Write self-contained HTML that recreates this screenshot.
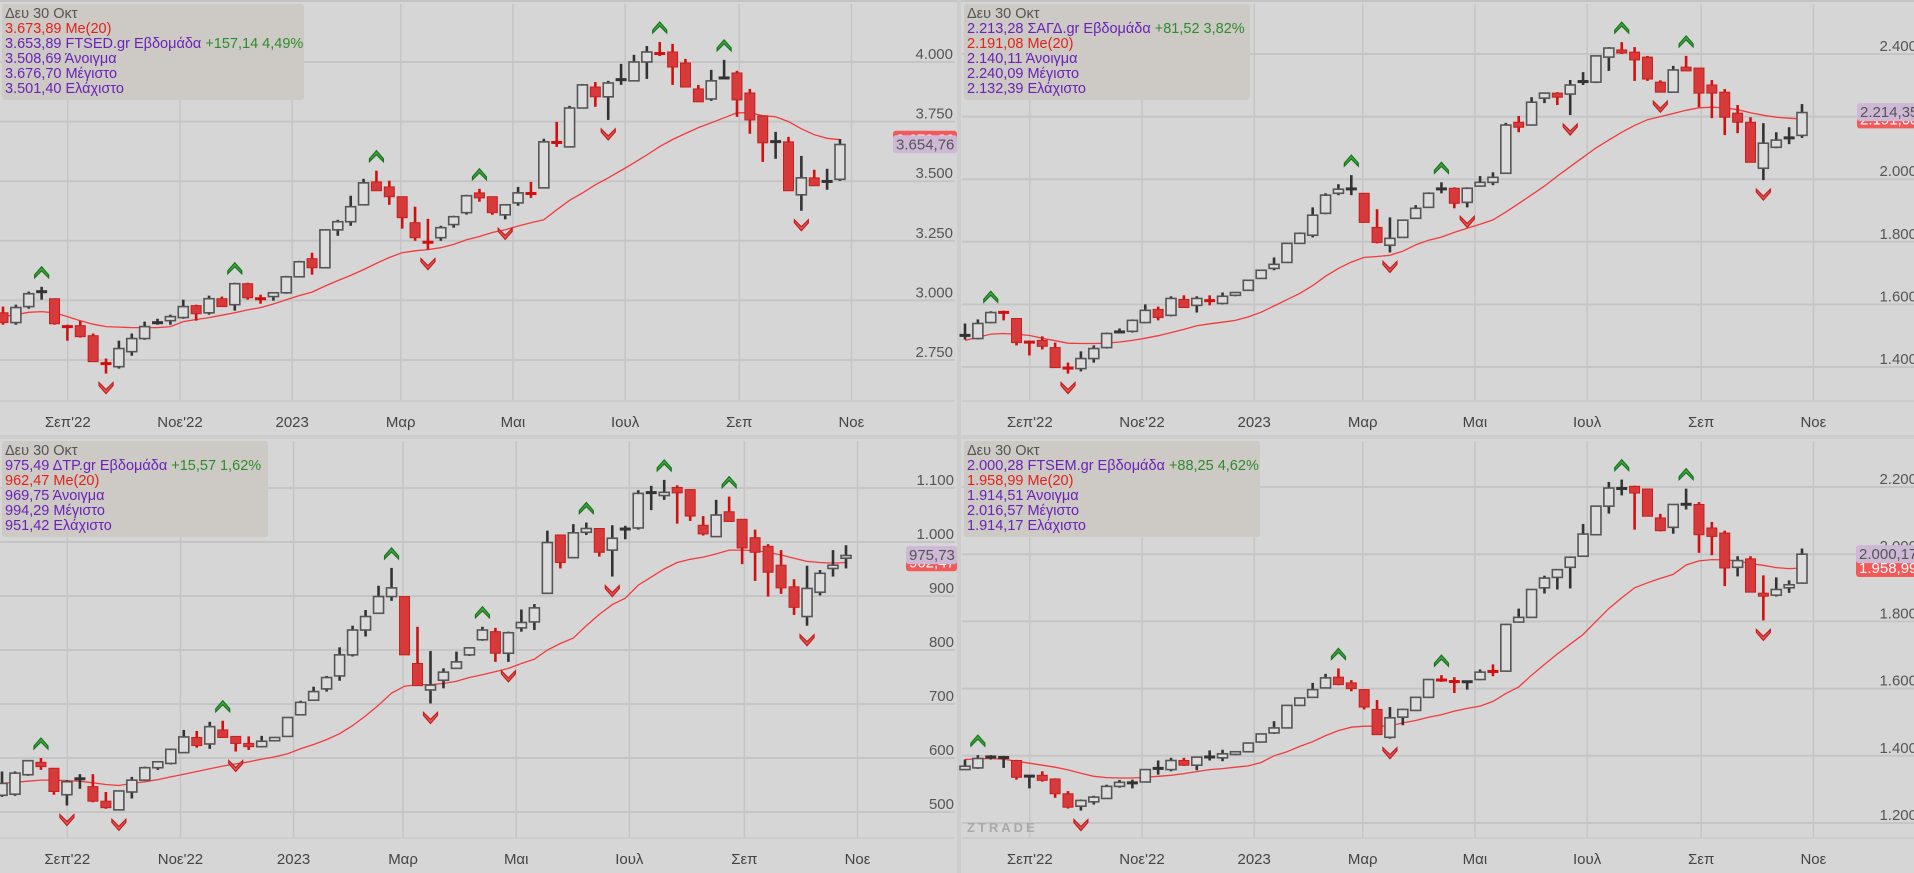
<!DOCTYPE html>
<html><head><meta charset="utf-8">
<style>
html,body{margin:0;padding:0;background:#d6d6d6;}
body{width:1914px;height:873px;overflow:hidden;position:relative;font-family:"Liberation Sans","DejaVu Sans",sans-serif;}
svg{position:absolute;left:0;top:0;}
.info{position:absolute;background:#cdc9c4;border-radius:3px;font-size:14.5px;line-height:15px;padding:3px 0 0 3px;box-sizing:border-box;white-space:nowrap;color:#6a22b8;}
.info div{height:15px;}
.d{color:#555;}.r{color:#e3211c;}.g{color:#2e8b2e;}.p{color:#6a22b8;}
</style></head>
<body>
<svg id="chart" width="1914" height="873" viewBox="0 0 1914 873"></svg>

<div class="info" style="left:2px;top:4px;width:302px;height:96px;">
<div class="d">Δευ 30 Οκτ</div>
<div class="r">3.673,89 Me(20)</div>
<div class="p">3.653,89 FTSED.gr Εβδομάδα <span class="g">+157,14 4,49%</span></div>
<div>3.508,69 Άνοιγμα</div><div>3.676,70 Μέγιστο</div><div>3.501,40 Ελάχιστο</div>
</div>
<div class="info" style="left:964px;top:4px;width:286px;height:96px;">
<div class="d">Δευ 30 Οκτ</div>
<div class="p">2.213,28 ΣΑΓΔ.gr Εβδομάδα <span class="g">+81,52 3,82%</span></div>
<div class="r">2.191,08 Me(20)</div>
<div>2.140,11 Άνοιγμα</div><div>2.240,09 Μέγιστο</div><div>2.132,39 Ελάχιστο</div>
</div>
<div class="info" style="left:2px;top:441px;width:266px;height:96px;">
<div class="d">Δευ 30 Οκτ</div>
<div class="p">975,49 ΔTP.gr Εβδομάδα <span class="g">+15,57 1,62%</span></div>
<div class="r">962,47 Me(20)</div>
<div>969,75 Άνοιγμα</div><div>994,29 Μέγιστο</div><div>951,42 Ελάχιστο</div>
</div>
<div class="info" style="left:964px;top:441px;width:296px;height:96px;">
<div class="d">Δευ 30 Οκτ</div>
<div class="p">2.000,28 FTSEM.gr Εβδομάδα <span class="g">+88,25 4,62%</span></div>
<div class="r">1.958,99 Me(20)</div>
<div>1.914,51 Άνοιγμα</div><div>2.016,57 Μέγιστο</div><div>1.914,17 Ελάχιστο</div>
</div>

<script>
// ---------- data: top-left (FTSED) ----------
const tlOpen=[2948,2907,2974,3032,3007,2894,2894,2852,2739,2722,2785,2840,2902,2915,2928,2978,2948,3007,2982,3070,3011,3016,3032,3099,3175,3137,3296,3330,3401,3497,3476,3435,3326,3246,3263,3318,3368,3451,3435,3359,3409,3451,3472,3665,3644,3807,3895,3854,3925,3921,4000,4038,4042,3996,3887,3845,3929,3954,3870,3774,3665,3665,3443,3514,3497,3508];
const tlHigh=[2974,2982,3037,3057,3007,2898,2915,2861,2756,2831,2861,2911,2923,2940,3003,2982,3020,3016,3074,3074,3024,3032,3103,3166,3200,3296,3338,3439,3510,3544,3502,3435,3393,3342,3313,3355,3443,3468,3435,3401,3476,3497,3678,3749,3816,3908,3916,3921,3992,4030,4067,4084,4076,4013,3904,3967,4009,3963,3887,3774,3707,3686,3606,3548,3552,3677];
const tlLow=[2898,2898,2965,3003,2898,2831,2844,2743,2693,2714,2768,2835,2898,2898,2923,2915,2940,2974,2957,3003,2986,2999,3028,3099,3108,3137,3271,3313,3401,3460,3401,3301,3250,3213,3250,3305,3360,3414,3359,3340,3397,3430,3472,3644,3644,3807,3812,3757,3904,3921,3929,4025,3904,3895,3833,3837,3929,3770,3699,3581,3594,3460,3376,3481,3464,3501];
const tlClose=[2907,2970,3028,3041,2902,2886,2848,2743,2731,2798,2840,2890,2911,2932,2974,2944,3007,2974,3070,3011,3003,3032,3099,3162,3137,3296,3330,3393,3493,3460,3435,3347,3263,3242,3305,3351,3439,3430,3368,3401,3451,3446,3665,3660,3807,3904,3854,3912,3927,4000,4042,4033,3979,3895,3833,3921,3937,3841,3757,3661,3667,3460,3514,3481,3501,3654];
const tlMA=[2932,2940,2950,2953,2948,2932,2915,2900,2890,2888,2886,2886,2886,2890,2911,2920,2928,2938,2948,2960,2970,2985,3003,3020,3035,3060,3083,3105,3129,3155,3180,3200,3208,3213,3221,3235,3254,3268,3285,3296,3312,3326,3338,3380,3420,3451,3485,3514,3545,3577,3610,3645,3675,3700,3725,3745,3766,3787,3787,3775,3770,3750,3720,3695,3680,3674];
const tlUp=[3,18,29,37,51,56];
const tlDown=[8,33,39,47,62];
const tlTicks=[2750,3000,3250,3500,3750,4000];
const tlTickLabels=["2.750","3.000","3.250","3.500","3.750","4.000"];
const tlLast=[3654.76,3673.89];
const tlLastLabels=["3.654,76","3.673,89"];

// ---------- data: top-right (ΣΑΓΔ) ----------
const trOpen=[1500,1491,1542,1578,1555,1481,1485,1462,1398,1395,1427,1462,1510,1514,1542,1584,1565,1616,1597,1614,1603,1629,1645,1683,1715,1734,1795,1821,1891,1955,1968,1955,1846,1789,1814,1875,1910,1968,1971,1926,1978,1990,2019,2182,2173,2259,2275,2272,2310,2310,2390,2413,2406,2390,2310,2278,2358,2355,2301,2278,2211,2182,2035,2102,2131,2140];
const trHigh=[1539,1552,1578,1580,1555,1484,1498,1478,1414,1450,1469,1510,1523,1552,1600,1593,1626,1629,1626,1629,1638,1639,1677,1709,1750,1795,1830,1910,1955,1984,2013,1955,1904,1878,1869,1917,1958,1990,1974,1974,2010,2022,2180,2202,2262,2275,2278,2317,2342,2394,2422,2438,2422,2394,2316,2362,2394,2355,2317,2288,2237,2198,2179,2150,2166,2240];
const trLow=[1488,1488,1540,1549,1469,1437,1456,1398,1379,1386,1414,1459,1507,1510,1540,1549,1562,1590,1574,1597,1600,1626,1645,1683,1709,1734,1795,1814,1888,1949,1949,1862,1795,1766,1814,1875,1910,1955,1907,1910,1978,1981,2019,2150,2173,2243,2237,2205,2301,2307,2346,2400,2314,2314,2278,2278,2346,2230,2195,2141,2147,2054,1997,2099,2112,2132];
const trClose=[1502,1539,1574,1571,1478,1478,1466,1398,1395,1427,1459,1507,1514,1549,1581,1558,1619,1590,1619,1610,1626,1638,1677,1709,1728,1795,1827,1885,1949,1968,1970,1862,1798,1811,1869,1907,1955,1970,1923,1971,1990,2006,2173,2166,2246,2275,2262,2301,2314,2394,2419,2403,2381,2320,2278,2349,2346,2275,2275,2198,2182,2054,2115,2125,2133,2213];
const trMA=[1485,1495,1505,1507,1504,1501,1492,1484,1476,1475,1475,1476,1480,1485,1492,1500,1510,1520,1532,1538,1543,1549,1560,1575,1595,1615,1635,1660,1690,1715,1735,1750,1753,1757,1770,1790,1805,1815,1830,1843,1856,1870,1895,1922,1950,1978,2010,2040,2070,2100,2125,2150,2172,2190,2200,2210,2220,2228,2230,2228,2222,2212,2204,2198,2195,2192];
const trUp=[2,30,37,51,56];
const trDown=[8,33,39,47,54,62];
const trTicks=[1400,1600,1800,2000,2200,2400];
const trTickLabels=["1.400","1.600","1.800","2.000","2.200","2.400"];
const trLast=[2214.35,2191.08];
const trLastLabels=["2.214,35","2.191,08"];

// ---------- data: bottom-left (ΔTP) ----------
const blOpen=[531,533,569,592,581,532,561,547,520,504,537,559,582,590,610,638,626,652,640,627,621,632,640,680,707,728,752,791,837,868,899,899,775,726,744,766,791,819,834,794,841,852,905,1013,971,1018,1025,985,1022,1026,1091,1086,1101,1097,1031,1010,1056,1042,1008,992,957,917,862,907,951,970];
const blHigh=[575,575,596,600,581,559,570,570,537,539,565,584,593,617,652,650,667,669,640,640,641,638,675,706,732,752,805,845,874,919,952,899,843,798,766,797,804,843,841,834,875,885,1021,1013,1033,1036,1025,1031,1030,1096,1104,1115,1105,1097,1048,1078,1084,1042,1023,996,985,931,956,948,985,994];
const blLow=[528,530,567,578,532,512,543,518,506,503,525,558,578,588,610,619,617,638,612,615,621,632,640,680,707,723,743,788,825,868,891,791,734,701,729,766,789,817,778,778,834,837,905,951,971,1013,973,936,1005,1023,1059,1078,1034,1039,1012,1010,1038,959,928,899,904,865,845,901,936,951];
const blClose=[553,572,595,584,538,556,562,520,508,539,559,582,593,616,639,623,658,638,627,621,631,638,675,703,723,749,791,837,862,899,915,791,734,735,759,778,804,837,794,832,851,878,999,962,1017,1025,981,1007,1026,1090,1092,1092,1091,1048,1015,1050,1038,989,981,944,915,879,914,942,957,975];
const blMA=[553,555,557,559,559,558,557,554,551,549,553,556,560,565,570,575,580,585,589,593,598,602,608,617,625,634,645,660,678,698,720,733,736,736,738,742,749,754,760,766,775,783,800,812,822,845,866,884,896,920,935,950,962,968,972,978,985,985,984,981,976,970,964,962,961,962];
const blUp=[3,17,30,37,45,51,56];
const blDown=[5,9,18,33,39,47,62];
const blTicks=[500,600,700,800,900,1000,1100];
const blTickLabels=["500","600","700","800","900","1.000","1.100"];
const blLast=[975.73,962.47];
const blLastLabels=["975,73","962,47"];

// ---------- data: bottom-right (FTSEM) ----------
const brOpen=[1359,1364,1396,1394,1386,1339,1342,1331,1287,1250,1263,1273,1309,1319,1322,1362,1359,1386,1372,1396,1394,1404,1412,1441,1468,1483,1550,1574,1602,1634,1617,1597,1538,1455,1515,1535,1574,1629,1622,1620,1627,1652,1652,1798,1812,1900,1931,1961,1994,2058,2143,2195,2202,2194,2108,2080,2148,2148,2078,2063,1961,1986,1884,1878,1900,1914];
const brHigh=[1389,1402,1402,1400,1388,1341,1354,1333,1295,1270,1281,1314,1328,1329,1359,1386,1394,1394,1398,1416,1418,1414,1440,1465,1503,1550,1572,1617,1644,1660,1625,1598,1566,1545,1540,1576,1629,1640,1634,1622,1657,1672,1793,1838,1895,1936,1956,1991,2090,2143,2215,2222,2204,2194,2120,2148,2195,2155,2096,2070,1994,1994,1937,1931,1922,2017];
const brLow=[1357,1361,1389,1364,1329,1303,1323,1275,1243,1237,1255,1273,1305,1303,1322,1344,1354,1370,1357,1386,1384,1402,1412,1441,1465,1483,1548,1572,1602,1610,1592,1538,1463,1451,1491,1533,1574,1620,1587,1597,1625,1637,1652,1798,1812,1883,1895,1898,1994,2058,2121,2175,2073,2113,2068,2061,2133,2004,1997,1905,1934,1887,1803,1874,1885,1914];
const brClose=[1369,1392,1397,1396,1336,1340,1327,1287,1247,1267,1277,1309,1321,1320,1359,1363,1386,1372,1396,1397,1406,1412,1438,1465,1483,1550,1572,1597,1632,1612,1600,1545,1463,1513,1538,1574,1627,1622,1620,1621,1649,1650,1791,1812,1895,1929,1954,1991,2060,2143,2197,2196,2182,2113,2070,2148,2149,2058,2053,1959,1981,1887,1875,1895,1909,2000];
const brMA=[1389,1391,1392,1390,1384,1378,1372,1366,1358,1348,1339,1335,1334,1334,1336,1339,1342,1347,1353,1359,1362,1366,1370,1380,1400,1412,1428,1442,1460,1475,1485,1488,1488,1489,1498,1505,1515,1522,1533,1541,1548,1562,1585,1605,1640,1672,1703,1732,1761,1800,1838,1870,1900,1915,1928,1940,1968,1980,1984,1983,1980,1972,1967,1960,1957,1959];
const brUp=[1,29,37,51,56];
const brDown=[9,33,62];
const brTicks=[1200,1400,1600,1800,2000,2200];
const brTickLabels=["1.200","1.400","1.600","1.800","2.000","2.200"];
const brLast=[2000.17,1958.99];
const brLastLabels=["2.000,17","1.958,99"];

// ---------- shared time axis ----------
const monthLabels=["Σεπ'22","Νοε'22","2023","Μαρ","Μαι","Ιουλ","Σεπ","Νοε"];
const monthDays=[31,92,153,212,273,334,396,457]; // days since first candle (1 Aug 2022)

const NS='http://www.w3.org/2000/svg';
const svg=document.getElementById('chart');
function mk(tag,attrs,parent){const e=document.createElementNS(NS,tag);for(const k in attrs)e.setAttribute(k,attrs[k]);(parent||svg).appendChild(e);return e;}

const panels=[
 {key:'tl',name:'ftsed',O:tlOpen,H:tlHigh,L:tlLow,C:tlClose,MA:tlMA,up:tlUp,down:tlDown,ticks:tlTicks,tickLabels:tlTickLabels,last:tlLast,lastLabels:tlLastLabels,
  left:0,top:4,right:955,yTop:360,yBot:62,xFirst:3,xLast:840,plotBottom:401,labelRight:953,timeY:427,lastX:893},
 {key:'tr',name:'sagd',O:trOpen,H:trHigh,L:trLow,C:trClose,MA:trMA,up:trUp,down:trDown,ticks:trTicks,tickLabels:trTickLabels,last:trLast,lastLabels:trLastLabels,
  left:962,top:4,right:1914,yTop:367,yBot:54,xFirst:965,xLast:1802,plotBottom:401,labelRight:1917,timeY:427,lastX:1857},
 {key:'bl',name:'dtp',O:blOpen,H:blHigh,L:blLow,C:blClose,MA:blMA,up:blUp,down:blDown,ticks:blTicks,tickLabels:blTickLabels,last:blLast,lastLabels:blLastLabels,
  left:0,top:441,right:955,yTop:812,yBot:488,xFirst:2,xLast:846,plotBottom:838,labelRight:954,timeY:864,lastX:906},
 {key:'br',name:'ftsem',O:brOpen,H:brHigh,L:brLow,C:brClose,MA:brMA,up:brUp,down:brDown,ticks:brTicks,tickLabels:brTickLabels,last:brLast,lastLabels:brLastLabels,
  left:962,top:441,right:1914,yTop:823,yBot:487,xFirst:965,xLast:1802,plotBottom:838,labelRight:1917,timeY:864,lastX:1856}
];

// separators
mk('rect',{x:0,y:0,width:1914,height:2,fill:'#c4c4c4'});
mk('rect',{x:957,y:0,width:4,height:873,fill:'#cdcdcd'});
mk('rect',{x:0,y:435,width:1914,height:4,fill:'#cdcdcd'});

panels.forEach(P=>{
  const g=mk('g',{});
  
  
  const pMin=P.ticks[0], pMax=P.ticks[P.ticks.length-1];
  // yTop = pixel of lowest tick, yBot = pixel of highest tick
  const yS=p=>P.yTop+(p-pMin)*(P.yBot-P.yTop)/(pMax-pMin);
  const n=P.O.length;
  const step=(P.xLast-P.xFirst)/(n-1);
  const xS=i=>P.xFirst+i*step;
  const xDay=d=>P.xFirst+(d/7+0.6)*step;

  P.ticks.forEach((t,k)=>{
    const y=yS(t);
    const ln=mk('line',{x1:P.left,x2:P.right,y1:y,y2:y,stroke:'#c5c5c5','stroke-width':2},g);
    
    
    const tx=mk('text',{x:P.labelRight,y:y-3,'text-anchor':'end','font-size':15,fill:'#555'},g);
    tx.textContent=P.tickLabels[k];
    
    
  });
  monthDays.forEach((d,k)=>{
    const x=xDay(d);
    const ln=mk('line',{x1:x,x2:x,y1:P.top,y2:P.plotBottom,stroke:'#c5c5c5','stroke-width':1.5},g);
    
    
    const tx=mk('text',{x:x,y:P.timeY,'text-anchor':'middle','font-size':15,fill:'#444'},g);
    tx.textContent=monthLabels[k];
    
    
  });
  const bl=mk('line',{x1:P.left,x2:P.right,y1:P.plotBottom,y2:P.plotBottom,stroke:'#c8c8c8','stroke-width':1.5},g);
  
  

  const pts=P.MA.map((v,i)=>xS(i).toFixed(1)+','+yS(v).toFixed(1)).join(' ');
  const ma=mk('polyline',{points:pts,fill:'none',stroke:'#f23b3b','stroke-width':1.3},g);
  
  

  for(let i=0;i<n;i++){
    const o=P.O[i],h=P.H[i],l=P.L[i],c=P.C[i];
    const x=xS(i);
    const yo=yS(o),yc=yS(c),yh=yS(h),yl=yS(l);
    const down=c<o;
    const top=Math.min(yo,yc),bot=Math.max(yo,yc);
    const cross=(bot-top)<2.6;
    const cg=mk('g',{},g);
    
    
    const wickCol=down?'#d20f0f':'#333';
    mk('line',{x1:x,x2:x,y1:yh,y2:yl,stroke:wickCol,'stroke-width':2.6},cg);
    if(cross){
      mk('rect',{x:x-5.5,y:(top+bot)/2-1.5,width:11,height:3,fill:down?'#d20f0f':'#333'},cg);
    }else if(down){
      mk('rect',{x:x-5,y:top,width:10,height:bot-top,fill:'#d63a3a',stroke:'#c81e1e','stroke-width':1},cg);
    }else{
      mk('rect',{x:x-5,y:top,width:10,height:bot-top,fill:'#dcdcdc',stroke:'#555','stroke-width':1.6},cg);
    }
  }
  P.up.forEach(i=>{
    const x=xS(i),y=yS(P.H[i])-16;
    const a=mk('polygon',{points:`${x-7},${y+4} ${x},${y-4} ${x+7},${y+4} ${x+7},${y+7} ${x},${y} ${x-7},${y+7}`,fill:'#45a545',stroke:'#17741b','stroke-width':1.2},g);
    
    
  });
  P.down.forEach(i=>{
    const x=xS(i),y=yS(P.L[i])+16;
    const a=mk('polygon',{points:`${x-7},${y-4} ${x},${y+4} ${x+7},${y-4} ${x+7},${y-7} ${x},${y} ${x-7},${y-7}`,fill:'#e25555',stroke:'#c21d1d','stroke-width':1.2},g);
    
    
  });
  const yMA=yS(P.last[1]), yP=yS(P.last[0]);
  const r1=mk('rect',{x:P.lastX,y:yMA-9,width:P.right-P.lastX+2,height:18,rx:3,fill:'#f25a5a'},g);
  
  
  const t1=mk('text',{x:P.lastX+3,y:yMA+5,'font-size':15,fill:'#fff'},g);
  t1.textContent=P.lastLabels[1];
  const r2=mk('rect',{x:P.lastX,y:yP-9,width:P.right-P.lastX+2,height:18,rx:3,fill:'#cdb8d6'},g);
  
  
  const t2=mk('text',{x:P.lastX+3,y:yP+5,'font-size':15,fill:'#555'},g);
  t2.textContent=P.lastLabels[0];
});

const wm=mk('text',{x:967,y:832,'font-size':13,'font-weight':'bold','letter-spacing':3,fill:'#a9a9a9'});
wm.textContent='ZTRADE';


</script>
</body></html>
